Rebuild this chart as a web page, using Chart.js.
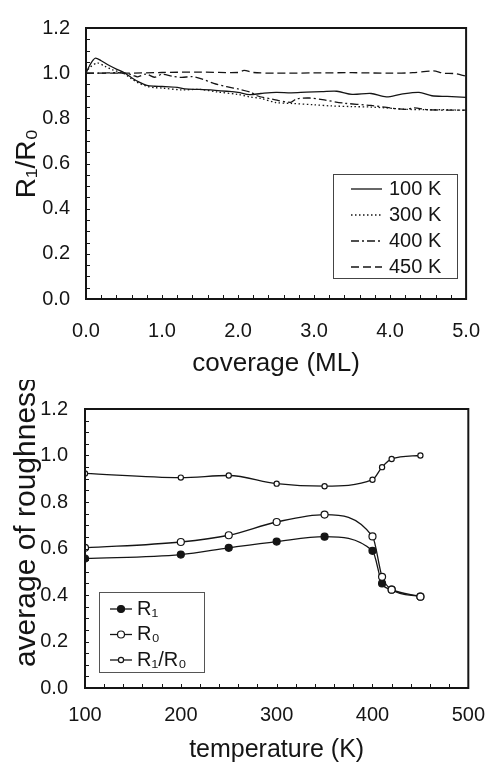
<!DOCTYPE html>
<html>
<head>
<meta charset="utf-8">
<script src="https://cdn.jsdelivr.net/npm/chart.js@4.4.1/dist/chart.umd.min.js"></script>
<style>
  html, body { margin: 0; padding: 0; background: #fff; }
  #wrap { position: relative; width: 500px; height: 765px; }
  #top { position: absolute; left: 0; top: 0; }
  #bottom { position: absolute; left: 0; top: 380px; }
</style>
</head>
<body>
<div id="wrap">
  <canvas id="top" width="500" height="380"></canvas>
  <canvas id="bottom" width="500" height="385"></canvas>
</div>
<script>
// top panel: R1/R0 vs coverage at four temperatures
const cov100 = [0.0, 0.05, 0.12, 0.2, 0.3, 0.4, 0.5, 0.6, 0.7, 0.8, 0.9, 1.0, 1.2, 1.3, 1.5, 1.7, 1.85, 2.0, 2.15, 2.3, 2.5, 2.7, 2.9, 3.1, 3.3, 3.5, 3.75, 3.95, 4.15, 4.38, 4.55, 4.75, 5.0]
const ratio100 = [1.0, 1.035, 1.066, 1.055, 1.035, 1.018, 1.003, 0.98, 0.96, 0.946, 0.942, 0.941, 0.937, 0.93, 0.928, 0.924, 0.92, 0.915, 0.905, 0.91, 0.915, 0.913, 0.916, 0.918, 0.92, 0.906, 0.91, 0.895, 0.907, 0.915, 0.9, 0.897, 0.893]

const cov300 = [0.0, 0.05, 0.15, 0.25, 0.35, 0.5, 0.6, 0.7, 0.8, 0.9, 1.0, 1.26, 1.5, 1.72, 2.0, 2.15, 2.3, 2.5, 2.7, 3.0, 3.22, 3.5, 3.75, 3.95, 4.2, 4.5, 4.75, 5.0]
const ratio300 = [1.0, 1.025, 1.045, 1.03, 1.015, 0.998, 0.975, 0.955, 0.942, 0.936, 0.934, 0.926, 0.928, 0.917, 0.906, 0.895, 0.888, 0.87, 0.866, 0.86, 0.855, 0.852, 0.85, 0.846, 0.84, 0.838, 0.838, 0.835]

const cov400 = [0.0, 0.2, 0.4, 0.55, 0.62, 0.68, 0.79, 0.9, 1.0, 1.13, 1.26, 1.39, 1.52, 1.68, 1.85, 2.0, 2.17, 2.25, 2.45, 2.69, 2.77, 2.94, 3.11, 3.37, 3.75, 4.0, 4.2, 4.32, 4.5, 5.0]
const ratio400 = [1.0, 1.0, 1.002, 0.998, 0.99, 0.984, 0.996, 0.982, 0.995, 0.987, 0.981, 0.985, 0.975, 0.955, 0.94, 0.93, 0.915, 0.9, 0.885, 0.871, 0.886, 0.89, 0.883, 0.868, 0.857, 0.846, 0.84, 0.846, 0.838, 0.836]

const cov450 = [0.0, 0.5, 1.0, 1.5, 2.0, 2.08, 2.2, 2.5, 3.0, 3.5, 4.0, 4.3, 4.57, 4.7, 4.85, 5.0]
const ratio450 = [1.0, 1.0, 1.003, 1.005, 1.003, 1.012, 1.003, 1.0, 1.001, 1.002, 1.0, 1.002, 1.01, 1.0, 0.998, 0.987]

// bottom panel: averages vs temperature
const temps = [100, 200, 250, 300, 350, 400, 410, 420, 450]
const avgR1 = [0.557, 0.574, 0.603, 0.63, 0.651, 0.59, 0.45, 0.423, 0.393]
const avgR0 = [0.603, 0.628, 0.657, 0.714, 0.746, 0.652, 0.478, 0.423, 0.393]
const avgRatio = [0.923, 0.905, 0.914, 0.879, 0.868, 0.896, 0.95, 0.985, 1.0]

const ink = "#151515"
const fam = "'Liberation Sans', Arial, Helvetica, sans-serif"

const toPoints = (xs, ys) => xs.map((x, i) => ({ x, y: ys[i] }))

// frame round the plot and small inward ticks on left and bottom
const framePlugin = {
  id: "frame",
  afterDatasetsDraw(chart, args, opts) {
    const { ctx, chartArea: a, scales: { x, y } } = chart
    ctx.save()
    ctx.strokeStyle = ink
    ctx.lineWidth = 1
    ctx.beginPath()
    for (let v = x.min; v <= x.max + 1e-9; v += opts.xStep) {
      const px = Math.round(x.getPixelForValue(v)) + 0.5
      ctx.moveTo(px, a.bottom)
      ctx.lineTo(px, a.bottom - 4)
    }
    for (let v = y.min; v <= y.max + 1e-9; v += opts.yStep) {
      const py = Math.round(y.getPixelForValue(v)) + 0.5
      ctx.moveTo(a.left, py)
      ctx.lineTo(a.left + 4, py)
    }
    ctx.stroke()
    ctx.lineWidth = 2
    ctx.strokeRect(a.left, a.top, a.right - a.left, a.bottom - a.top)
    ctx.restore()
  }
}

// legend drawn in a box inside the plot
const boxLegend = {
  id: "boxLegend",
  afterDraw(chart, args, opts) {
    const { ctx } = chart
    const b = opts.box
    ctx.save()
    ctx.strokeStyle = opts.frameColor
    ctx.lineWidth = 1
    ctx.strokeRect(b.x + 0.5, b.y + 0.5, b.w, b.h)
    ctx.font = opts.font
    ctx.textBaseline = "middle"
    chart.data.datasets.forEach((ds, i) => {
      const yy = opts.firstY + i * opts.rowGap
      ctx.strokeStyle = ds.borderColor
      ctx.lineWidth = ds.borderWidth
      ctx.setLineDash(ds.borderDash || [])
      ctx.beginPath()
      ctx.moveTo(opts.lineX[0], yy)
      ctx.lineTo(opts.lineX[1], yy)
      ctx.stroke()
      ctx.setLineDash([])
      if (ds.pointRadius) {
        ctx.beginPath()
        ctx.arc((opts.lineX[0] + opts.lineX[1]) / 2, yy, ds.pointRadius, 0, Math.PI * 2)
        ctx.fillStyle = ds.pointBackgroundColor
        ctx.fill()
        ctx.lineWidth = ds.pointBorderWidth
        ctx.stroke()
      }
      ctx.fillStyle = ink
      ctx.fillText(ds.label, opts.textX, yy)
    })
    ctx.restore()
  }
}

// rotated side title that sits higher than the plot centre
const sideTitle = {
  id: "sideTitle",
  afterDraw(chart, args, opts) {
    if (!opts.text) return
    const { ctx } = chart
    ctx.save()
    ctx.translate(opts.x, opts.y)
    ctx.rotate(-Math.PI / 2)
    ctx.font = opts.font
    ctx.fillStyle = ink
    ctx.textAlign = "center"
    ctx.textBaseline = "middle"
    ctx.fillText(opts.text, 0, 0)
    ctx.restore()
  }
}

const tickFont = { family: fam, size: 20 }

new Chart(document.getElementById("top"), {
  type: "line",
  data: {
    datasets: [
      { label: "100 K", data: toPoints(cov100, ratio100), borderColor: ink, borderWidth: 1.3, pointRadius: 0, tension: 0.3 },
      { label: "300 K", data: toPoints(cov300, ratio300), borderColor: ink, borderWidth: 1.3, borderDash: [1.5, 2.5], pointRadius: 0, tension: 0.3 },
      { label: "400 K", data: toPoints(cov400, ratio400), borderColor: ink, borderWidth: 1.3, borderDash: [8, 3, 2, 3], pointRadius: 0, tension: 0.3 },
      { label: "450 K", data: toPoints(cov450, ratio450), borderColor: ink, borderWidth: 1.3, borderDash: [8, 4], pointRadius: 0, tension: 0.3 }
    ]
  },
  options: {
    responsive: false,
    animation: false,
    layout: { padding: { top: 24, right: 25, left: 0, bottom: 0 } },
    plugins: {
      legend: { display: false },
      tooltip: { enabled: false },
      frame: { xStep: 0.2, yStep: 0.05 },
      sideTitle: {},
      boxLegend: {
        box: { x: 333, y: 174, w: 124, h: 104 },
        frameColor: "#444",
        font: `20px ${fam}`,
        firstY: 189, rowGap: 26,
        lineX: [351, 382], textX: 389
      }
    },
    scales: {
      x: {
        type: "linear", min: 0, max: 5,
        afterFit: (s) => { s.height = 81 },
        border: { display: false },
        grid: { display: false, drawTicks: false },
        ticks: { stepSize: 1, padding: 20, color: ink, font: tickFont, callback: (v) => v.toFixed(1) },
        title: { display: true, text: "coverage (ML)", color: ink, font: { family: fam, size: 26 }, padding: { bottom: 1 } }
      },
      y: {
        min: 0, max: 1.2,
        afterFit: (s) => { s.width = 86 },
        border: { display: false },
        grid: { display: false, drawTicks: false },
        ticks: { stepSize: 0.2, padding: 16, color: ink, font: tickFont, callback: (v) => v.toFixed(1) },
        title: { display: true, text: "R₁/R₀", color: ink, font: { family: fam, size: 28 }, padding: { top: 10 } }
      }
    }
  },
  plugins: [framePlugin, boxLegend, sideTitle]
})

new Chart(document.getElementById("bottom"), {
  type: "line",
  data: {
    labels: temps,
    datasets: [
      { label: "R₁", data: toPoints(temps, avgR1), borderColor: ink, borderWidth: 1.3, pointRadius: 3.5, pointBorderWidth: 1.2, pointBackgroundColor: ink, pointBorderColor: ink, cubicInterpolationMode: "monotone", order: 2 },
      { label: "R₀", data: toPoints(temps, avgR0), borderColor: ink, borderWidth: 1.3, pointRadius: 3.5, pointBorderWidth: 1.2, pointBackgroundColor: "#fff", pointBorderColor: ink, cubicInterpolationMode: "monotone", order: 0 },
      { label: "R₁/R₀", data: toPoints(temps, avgRatio), borderColor: ink, borderWidth: 1.3, pointRadius: 2.6, pointBorderWidth: 1.2, pointBackgroundColor: "#fff", pointBorderColor: ink, cubicInterpolationMode: "monotone", order: 1 }
    ]
  },
  options: {
    responsive: false,
    animation: false,
    layout: { padding: { top: 25, right: 18, left: 0, bottom: 0 } },
    plugins: {
      legend: { display: false },
      tooltip: { enabled: false },
      frame: { xStep: 20, yStep: 0.05 },
      sideTitle: { text: "average of roughness", x: 27, y: 142, font: `30px ${fam}` },
      boxLegend: {
        box: { x: 99, y: 212, w: 105, h: 80 },
        frameColor: "#555",
        font: `20px ${fam}`,
        firstY: 229, rowGap: 25.5,
        lineX: [110, 132], textX: 137
      }
    },
    scales: {
      x: {
        type: "linear", min: 100, max: 500,
        afterFit: (s) => { s.height = 77 },
        border: { display: false },
        grid: { display: false, drawTicks: false },
        ticks: { stepSize: 100, padding: 15, color: ink, font: tickFont },
        title: { display: true, text: "temperature (K)", color: ink, font: { family: fam, size: 25 }, padding: { bottom: 0 } }
      },
      y: {
        min: 0, max: 1.2,
        afterFit: (s) => { s.width = 85 },
        border: { display: false },
        grid: { display: false, drawTicks: false },
        ticks: { stepSize: 0.2, padding: 17, color: ink, font: tickFont, callback: (v) => v.toFixed(1) },
        title: { display: false }
      }
    }
  },
  plugins: [framePlugin, boxLegend, sideTitle]
})
</script>
</body>
</html>
